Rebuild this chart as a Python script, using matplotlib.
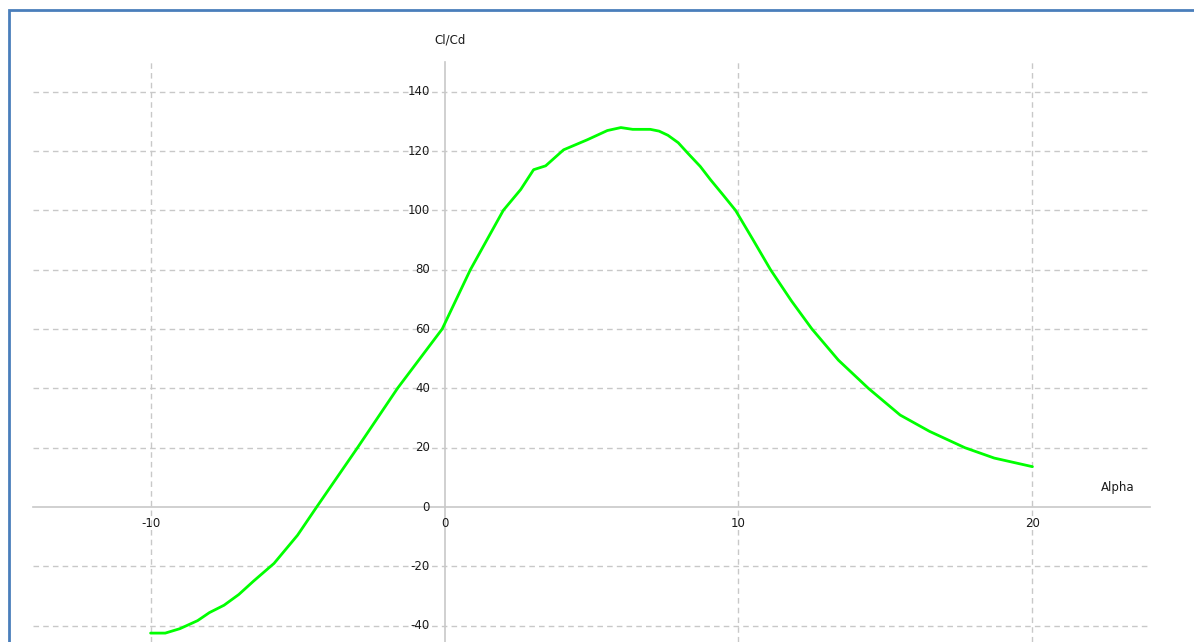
import matplotlib
matplotlib.use("Agg")
import matplotlib.pyplot as plt
from matplotlib.patches import Rectangle

alpha = [-10.0, -9.5, -9.0, -8.4, -8.0, -7.5, -7.0, -6.5, -5.8, -5.0, -4.35, -2.96,
         -1.6, -0.08, 0.88, 2.0, 2.59, 3.03, 3.44, 4.05, 4.86, 5.54, 6.0, 6.4,
         7.0, 7.3, 7.6, 7.95, 8.3, 8.7, 9.05, 9.45, 9.9, 10.5, 11.09, 11.8, 12.5,
         13.4, 14.42, 15.5, 16.5, 17.7, 18.7, 20.0]
cl_cd = [-42.5, -42.5, -41.0, -38.3, -35.6, -33.1, -29.5, -25.0, -19.0, -9.5, 0.0, 20.0,
         40.0, 60.0, 80.0, 100.0, 107.0, 113.7, 115.0, 120.4, 123.8, 126.9, 127.9, 127.3,
         127.3, 126.7, 125.3, 122.8, 119.0, 114.8, 110.3, 105.5, 100.0, 90.0, 80.0, 69.5, 60.0,
         49.5, 40.0, 31.0, 25.5, 20.0, 16.5, 13.6]
x_ticks = [-10, 0, 10, 20]
y_ticks = [-40, -20, 0, 20, 40, 60, 80, 100, 120, 140]

W, H = 1194, 642
fig = plt.figure(figsize=(W / 100, H / 100), dpi=100)
fig.patch.set_facecolor("white")

left, right, top, bottom = 33, 1150, 62, 642
ax = fig.add_axes([left / W, 1 - bottom / H, (right - left) / W, (bottom - top) / H])
ax.set_xlim(-14, 24)
ax.set_ylim(-45.5, 150)
ax.set_facecolor("white")

for s in ["top", "right"]:
    ax.spines[s].set_visible(False)
ax.spines["left"].set_position(("data", 0))
ax.spines["bottom"].set_position(("data", 0))
for s in ["left", "bottom"]:
    ax.spines[s].set_color("#c8c8c8")
    ax.spines[s].set_linewidth(1.2)

grid_kw = dict(color="#c8c8c8", linestyle=(0, (4, 3)), linewidth=1.0, zorder=0)
for xv in x_ticks:
    if xv != 0:
        ax.axvline(xv, **grid_kw)
for yv in y_ticks:
    if yv != 0:
        ax.axhline(yv, **grid_kw)

ax.set_xticks([])
ax.set_yticks([])

tc = "#1a1a1a"
fs = 8.5
for xv in x_ticks:
    ax.text(xv, -3.5, str(xv), ha="center", va="top", fontsize=fs, color=tc)
for yv in y_ticks:
    ax.text(-0.5, yv, str(yv), ha="right", va="center", fontsize=fs, color=tc)

ax.plot(alpha, cl_cd, color="#00ff00", linewidth=2.0, zorder=3,
        solid_joinstyle="round", solid_capstyle="round")

fig.text(450 / W, 1 - 40 / H, "Cl/Cd", ha="center", va="center", fontsize=fs, color=tc)
fig.text(1118 / W, 1 - 487 / H, "Alpha", ha="center", va="center", fontsize=fs, color=tc)

fig.patches.append(Rectangle((9 / W, -0.1), 1.2, 1 - 10 / H + 0.1, transform=fig.transFigure,
                             fill=False, edgecolor="#4a7ebb", linewidth=2.0))

fig.savefig("out.png", dpi=100)
